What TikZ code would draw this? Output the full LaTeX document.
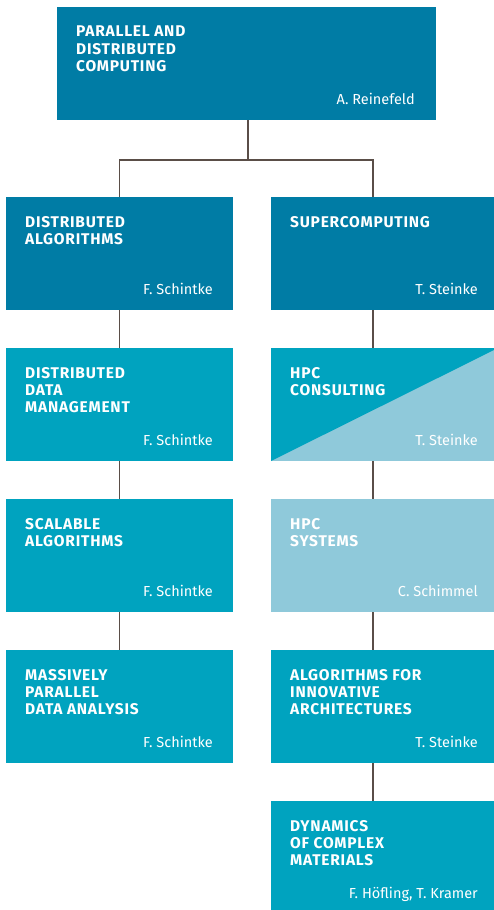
\documentclass[tikz,border=0pt]{standalone}
\usepackage{fontspec}
\setmainfont{Fira Sans}
\newfontfamily\headfont[LetterSpace=5]{Fira Sans}
\usepackage{tikz}
\usetikzlibrary{positioning}

\definecolor{deepblue}{RGB}{0,124,165}
\definecolor{petrol}{RGB}{0,163,191}
\definecolor{paleblue}{RGB}{143,201,218}
\definecolor{linkgray}{RGB}{90,78,72}

\begin{document}
\begin{tikzpicture}[x=1pt, y=1pt]
\tikzstyle{unit} = [rectangle, minimum width = 227pt, minimum height = 113pt, inner sep = 0pt, outer sep = 0pt]
\tikzstyle{title} = [anchor = north west, inner sep = 0pt, align = left, text = white, font = \fontsize{15.5}{17.3}\selectfont\headfont\bfseries]
\tikzstyle{person} = [anchor = base east, inner sep = 0pt, text = white, font = \fontsize{14.5}{17}\selectfont]
\tikzstyle{link} = [draw = linkgray, line width = 1.1pt]
\useasboundingbox (0,0) rectangle (493,-910);

% boxes
\node[unit, minimum width = 379pt, fill = deepblue] (pdc) at (246.5,-63.5) {};
\node[unit, fill = deepblue] (da) at (119.5,-253.5) {};
\node[unit, fill = deepblue] (sc) at (384.5,-253.5) {};
\node[unit, fill = petrol, below = 38pt of da] (ddm) {};
\node[unit, fill = petrol, below = 38pt of ddm] (sa) {};
\node[unit, fill = petrol, below = 38pt of sa] (mpda) {};
\node[unit, fill = paleblue, below = 38pt of sc] (hpcc) {};
\fill[petrol] (hpcc.north west) -- (hpcc.north east) -- (hpcc.south west) -- cycle;
\node[unit, fill = paleblue, below = 38pt of hpcc] (hpcs) {};
\node[unit, fill = petrol, below = 38pt of hpcs] (aia) {};
\node[unit, fill = petrol, below = 38pt of aia] (dcm) {};

% texts
\node[title] (pdc-t) at ([shift = {(19pt,-19pt)}]pdc.north west) {PARALLEL AND\\DISTRIBUTED\\COMPUTING};
\node[person] (pdc-p) at ([shift = {(-21pt,16pt)}]pdc.south east) {A. Reinefeld};
\node[title] (da-t) at ([shift = {(19pt,-19pt)}]da.north west) {DISTRIBUTED\\ALGORITHMS};
\node[person] (da-p) at ([shift = {(-20pt,16pt)}]da.south east) {F. Schintke};
\node[title] (sc-t) at ([shift = {(19pt,-19pt)}]sc.north west) {SUPERCOMPUTING};
\node[person] (sc-p) at ([shift = {(-20pt,16pt)}]sc.south east) {T. Steinke};
\node[title] (ddm-t) at ([shift = {(19pt,-19pt)}]ddm.north west) {DISTRIBUTED\\DATA\\MANAGEMENT};
\node[person] (ddm-p) at ([shift = {(-20pt,16pt)}]ddm.south east) {F. Schintke};
\node[title] (sa-t) at ([shift = {(19pt,-19pt)}]sa.north west) {SCALABLE\\ALGORITHMS};
\node[person] (sa-p) at ([shift = {(-20pt,16pt)}]sa.south east) {F. Schintke};
\node[title] (mpda-t) at ([shift = {(19pt,-19pt)}]mpda.north west) {MASSIVELY\\PARALLEL\\DATA ANALYSIS};
\node[person] (mpda-p) at ([shift = {(-20pt,16pt)}]mpda.south east) {F. Schintke};
\node[title] (hpcc-t) at ([shift = {(19pt,-19pt)}]hpcc.north west) {HPC\\CONSULTING};
\node[person] (hpcc-p) at ([shift = {(-20pt,16pt)}]hpcc.south east) {T. Steinke};
\node[title] (hpcs-t) at ([shift = {(19pt,-19pt)}]hpcs.north west) {HPC\\SYSTEMS};
\node[person] (hpcs-p) at ([shift = {(-20pt,16pt)}]hpcs.south east) {C. Schimmel};
\node[title] (aia-t) at ([shift = {(19pt,-19pt)}]aia.north west) {ALGORITHMS FOR\\INNOVATIVE\\ARCHITECTURES};
\node[person] (aia-p) at ([shift = {(-20pt,16pt)}]aia.south east) {T. Steinke};
\node[title] (dcm-t) at ([shift = {(19pt,-19pt)}]dcm.north west) {DYNAMICS\\OF COMPLEX\\MATERIALS};
\node[person] (dcm-p) at ([shift = {(-20pt,16pt)}]dcm.south east) {F. Höfling, T. Kramer};

% connectors
\draw[link] ([xshift = 1.5pt]pdc.south) -- ++(0,-40) -| (da.north);
\draw[link] ([xshift = 1.5pt]pdc.south) -- ++(0,-40) -| ([xshift = -11.5pt]sc.north);
\foreach \a/\b in {da/ddm, ddm/sa, sa/mpda}
	\draw[link] (\a) -- (\b);
\foreach \a/\b in {sc/hpcc, hpcc/hpcs, hpcs/aia, aia/dcm}
	\draw[link] ([xshift = -11.5pt]\a.south) -- ([xshift = -11.5pt]\b.north);
\end{tikzpicture}
\end{document}
